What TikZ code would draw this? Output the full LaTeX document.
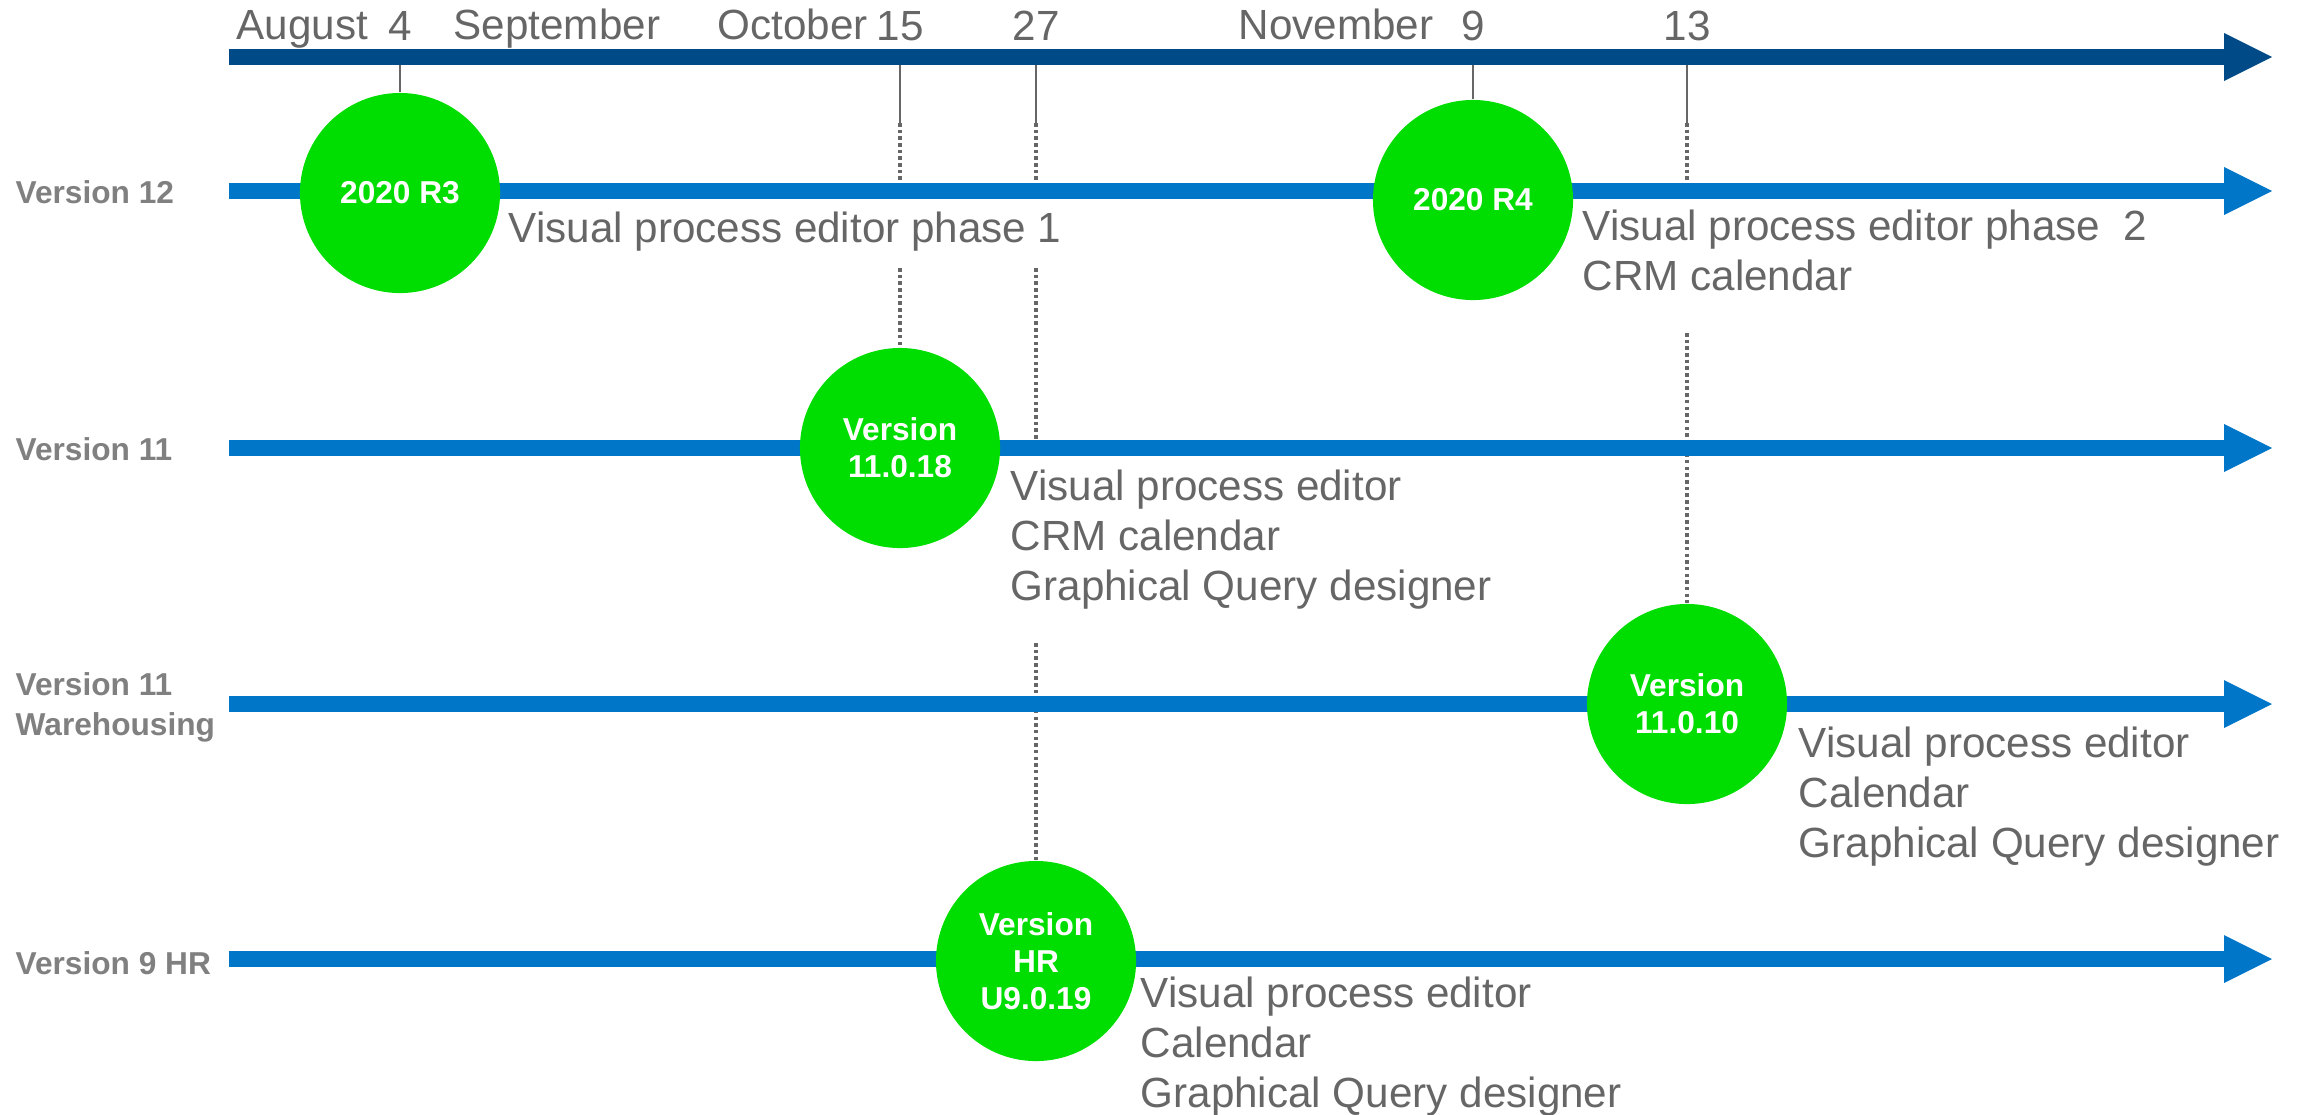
\documentclass[tikz,border=0pt]{standalone}
\usepackage{fontspec}
\setmainfont{Liberation Sans}
\usetikzlibrary{arrows.meta}
\pgfdeclarelayer{background}
\pgfsetlayers{background,main}

\definecolor{axisblue}{RGB}{0,75,135}
\definecolor{laneblue}{RGB}{0,118,200}
\definecolor{relgreen}{RGB}{0,221,0}
\definecolor{txtgray}{RGB}{102,102,102}
\definecolor{lblgray}{RGB}{128,128,128}

\begin{document}
\begin{tikzpicture}[x=0.01cm,y=-0.01cm,
    axis/.style={line width=0.16cm,color=axisblue,-{Triangle[length=0.48cm,width=0.48cm,line width=0pt]}},
    lane/.style={line width=0.16cm,color=laneblue,-{Triangle[length=0.48cm,width=0.48cm,line width=0pt]}},
    tick/.style={draw=txtgray,line width=0.8pt},
    guide/.style={draw=txtgray,line width=1pt,dash pattern=on 1pt off 0.9pt},
    month/.style={text=txtgray,font=\fontsize{12}{14.2}\selectfont,inner sep=0pt,anchor=base west},
    day/.style={month,anchor=base},
    note/.style={month,align=left},
    lanelabel/.style={text=lblgray,font=\bfseries\fontsize{9}{11.1}\selectfont,inner sep=0pt,anchor=base west,align=left},
    release/.style={circle,fill=relgreen,inner sep=0pt,minimum size=2cm,text=white,align=center,font=\bfseries\fontsize{9}{10.6}\selectfont}]
    \useasboundingbox (0,0) rectangle (2313,1114);

    \coordinate (a0) at (229,57);
    \coordinate (a1) at (2272,57);
    \foreach \r/\y in {1/191,2/448,3/704,4/959}{
        \coordinate (l\r) at (229,\y);
        \coordinate (e\r) at (2272,\y);
    }
    \foreach \d/\x in {4/400,15/900,27/1036,9/1473,13/1687}{
        \node[day] (d\d) at (\x,40) {\d};
        \coordinate (m\d) at (\x,65);
    }
    \node[month] (aug) at (236,39) {August};
    \node[month] (sep) at (453,39) {September};
    \node[month] (oct) at (717,39) {October};
    \node[month] (nov) at (1238,39) {November};

    \node[release] (r3) at (400,193) {2020 R3};
    \node[release] (r4) at (1473,200) {2020 R4};
    \node[release] (v18) at (900,448) {Version\\11.0.18};
    \node[release] (v10) at (1687,704) {Version\\11.0.10};
    \node[release] (v19) at (1036,961) {Version\\HR\\U9.0.19};

    \begin{pgfonlayer}{background}
        \draw[tick] (m4) -- (r3.north);
        \draw[tick] (m9) -- (r4.north);
        \foreach \d in {15,27,13}{
            \draw[tick] (m\d) -- ++(0,58) coordinate (k\d);
            \draw[guide] (k\d) -- (k\d |- l1);
        }
        \coordinate (g15) at (900,268);
        \coordinate (g27) at (1036,268);
        \coordinate (h27) at (1036,643);
        \coordinate (g13) at (1687,333);
        \draw[guide] (g15) -- (v18.north);
        \draw[guide] (g27) -- (g27 |- l2);
        \draw[guide] (h27) -- (v19.north);
        \draw[guide] (g13) -- (v10.north);
        \foreach \r in {1,...,4}
            \draw[lane] (l\r) -- (e\r);
        \draw[axis] (a0) -- (a1);
    \end{pgfonlayer}

    \node[lanelabel] (n12) at (15,203) {Version 12};
    \node[lanelabel] (n11) at (15,460) {Version 11};
    \node[lanelabel] (n11w) at (15,735) {Version 11\\Warehousing};
    \node[lanelabel] (n9) at (15,974) {Version 9 HR};

    \node[note] (t12a) at (508,242) {Visual process editor phase 1};
    \node[note] (t12b) at (1582,290) {Visual process editor phase\ \ 2\\CRM calendar};
    \node[note] (t11) at (1010,600) {Visual process editor\\CRM calendar\\Graphical Query designer};
    \node[note] (t11w) at (1798,857) {Visual process editor\\Calendar\\Graphical Query designer};
    \node[note] (t9) at (1140,1107) {Visual process editor\\Calendar\\Graphical Query designer};
\end{tikzpicture}
\end{document}
